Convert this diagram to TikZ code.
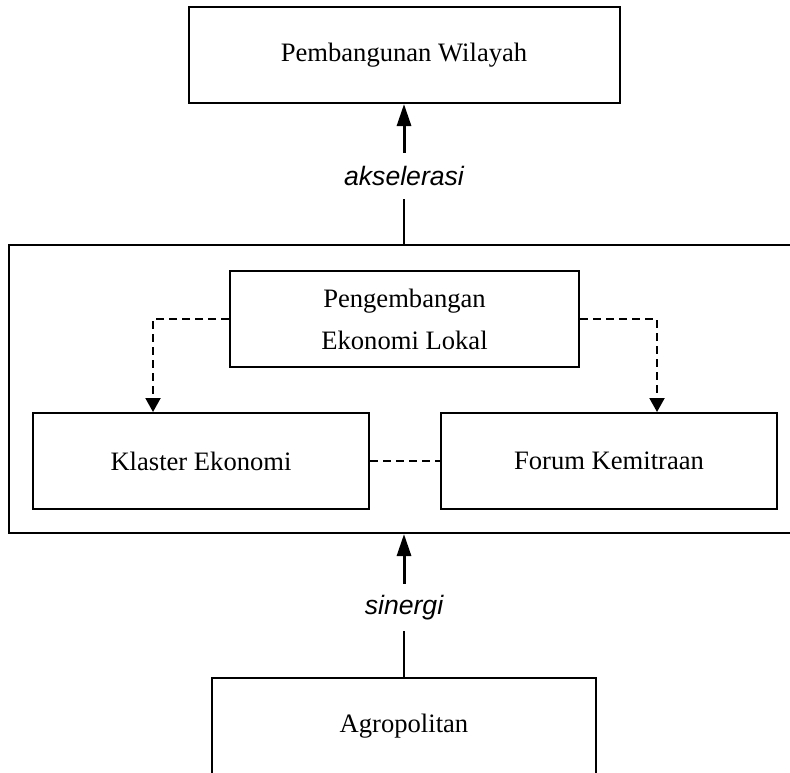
\documentclass[tikz,border=0pt]{standalone}
\usepackage{fontspec}
\setmainfont{Liberation Serif}
\setsansfont{Liberation Sans}
\usetikzlibrary{arrows.meta}

\tikzset{
	kotak/.style={draw, line width=1pt, minimum height=48pt, inner sep=0pt, font=\fontsize{13.3}{21}\selectfont, align=center},
	label/.style={inner sep=0pt, font=\fontsize{13.3}{16}\selectfont\sffamily\itshape},
	panah/.style={line width=1.5pt, -{Triangle[length=11pt, width=7pt]}},
	putus/.style={line width=1pt, dash pattern=on 4pt off 2.5pt},
}

\begin{document}
\begin{tikzpicture}[x=0.5pt, y=-0.5pt]
	\useasboundingbox (0,0) rectangle (790,772); % Rand um Grafik
	
	\node[kotak, minimum width=215.5pt] (wilayah) at (404,55) {Pembangunan Wilayah};
	\node[label, minimum height=23pt] (aks) at (404,176) {akselerasi};
	
	% kotak besar (rechts abgeschnitten)
	\node[draw, line width=1pt, minimum width=395pt, minimum height=144pt] (zona) at (404,389) {};
	
	\node[kotak, minimum width=174.5pt] (pel) at (404.5,319) {Pengembangan\\Ekonomi Lokal};
	\node[kotak, minimum width=168pt] (klaster) at (201,461) {Klaster Ekonomi};
	\node[kotak, minimum width=168pt] (forum) at (609,461) {Forum Kemitraan};
	
	\node[label, minimum height=23.5pt] (sin) at (404,607.5) {sinergi};
	\node[kotak, minimum width=192pt] (agro) at (404,726) {Agropolitan};
	
	% Verbindungen
	\draw[panah] (aks) -- (wilayah);
	\draw[line width=0.6pt] (aks) -- (aks |- zona.north);
	
	\draw[putus, -{Triangle[length=7pt, width=7.5pt]}] (pel.west) -| ([xshift=-24pt]klaster.north);
	\draw[putus, -{Triangle[length=7pt, width=7.5pt]}] (pel.east) -| ([xshift=24pt]forum.north);
	\draw[putus] (klaster) -- (forum);
	
	\draw[panah] (sin) -- (sin |- zona.south);
	\draw[line width=0.6pt] (sin) -- (agro);
\end{tikzpicture}
\end{document}
